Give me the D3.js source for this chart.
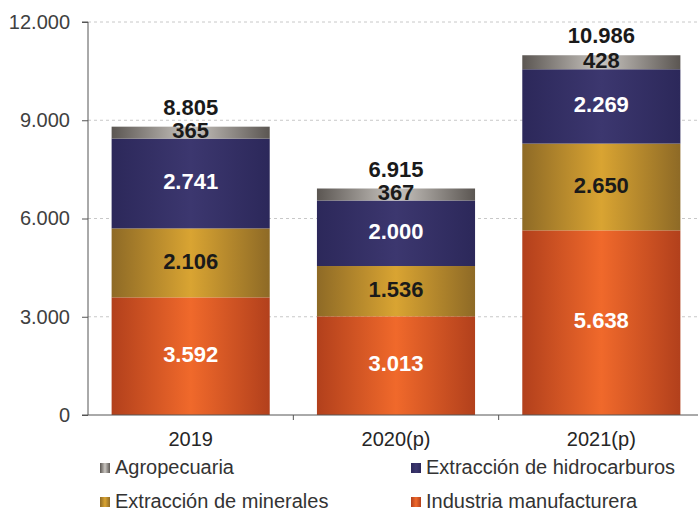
<!DOCTYPE html>
<html>
<head>
<meta charset="utf-8">
<script src="https://cdn.jsdelivr.net/npm/d3@7"></script>
<style>
  body { margin: 0; background: #fff; }
  svg { display: block; font-family: "Liberation Sans", Arial, sans-serif; }
</style>
</head>
<body>
<svg id="chart"></svg>
<script>
// chart size
const width = 698, height = 513;

// data
const years = ["2019", "2020(p)", "2021(p)"];
const seriesNames = ["Industria manufacturera", "Extracción de minerales", "Extracción de hidrocarburos", "Agropecuaria"];
const industria = [3592, 3013, 5638];
const minerales = [2106, 1536, 2650];
const hidrocarburos = [2741, 2000, 2269];
const agropecuaria = [365, 367, 428];
const totals = [8805, 6915, 10986];
const yTicks = [0, 3000, 6000, 9000, 12000];

// colours: [edge, middle, label colour]
const colors = {
    "Industria manufacturera": ["#b2401c", "#f0692b", "#ffffff"],
    "Extracción de minerales": ["#8e6a26", "#d9a432", "#1a1a1a"],
    "Extracción de hidrocarburos": ["#2c285a", "#3c376f", "#ffffff"],
    "Agropecuaria": ["#5b5652", "#c9c5c0", "#1a1a1a"]
};

const rows = years.map((y, i) => ({
    year: y,
    "Industria manufacturera": industria[i],
    "Extracción de minerales": minerales[i],
    "Extracción de hidrocarburos": hidrocarburos[i],
    "Agropecuaria": agropecuaria[i],
    total: totals[i]
}));

const fmt = d3.formatLocale({ decimal: ",", thousands: ".", grouping: [3], currency: ["", ""] }).format(",d");

const margin = { top: 22, left: 88, right: -6, bottom: 98 };

const svg = d3.select("#chart").attr("width", width).attr("height", height);

const x = d3.scaleBand()
    .domain(years)
    .range([margin.left, width - margin.right])
    .paddingInner(0.23)
    .paddingOuter(0.115);

const y = d3.scaleLinear()
    .domain([0, 12000])
    .range([height - margin.bottom, margin.top]);

// gradients (horizontal, lighter in the middle)
const defs = svg.append("defs");
seriesNames.forEach((name, i) => {
    const g = defs.append("linearGradient")
        .attr("id", "grad" + i)
        .attr("x1", "0%").attr("x2", "100%").attr("y1", "0%").attr("y2", "0%");
    g.append("stop").attr("offset", "0%").attr("stop-color", colors[name][0]);
    g.append("stop").attr("offset", "50%").attr("stop-color", colors[name][1]);
    g.append("stop").attr("offset", "100%").attr("stop-color", colors[name][0]);
});

// gridlines
svg.append("g")
    .selectAll("line")
    .data(yTicks.filter(d => d > 0))
    .enter().append("line")
    .attr("x1", margin.left)
    .attr("x2", width)
    .attr("y1", d => y(d))
    .attr("y2", d => y(d))
    .attr("stroke", "#c8c8c8")
    .attr("stroke-dasharray", "3,3");

// stacked bars
const stack = d3.stack().keys(seriesNames);
const layers = stack(rows);

const layer = svg.append("g")
    .selectAll("g")
    .data(layers)
    .enter().append("g")
    .attr("fill", (d, i) => "url(#grad" + i + ")");

layer.selectAll("rect")
    .data(d => d)
    .enter().append("rect")
    .attr("x", d => x(d.data.year))
    .attr("width", x.bandwidth())
    .attr("y", d => y(d[1]))
    .attr("height", d => y(d[0]) - y(d[1]));

// segment labels
layers.forEach(l => {
    svg.append("g")
        .selectAll("text")
        .data(l)
        .enter().append("text")
        .attr("x", d => x(d.data.year) + x.bandwidth() / 2)
        .attr("y", d => (y(d[0]) + y(d[1])) / 2)
        .attr("text-anchor", "middle")
        .attr("dominant-baseline", "middle")
        .attr("font-size", 22)
        .attr("font-weight", "bold")
        .attr("fill", colors[l.key][2])
        .text(d => fmt(d.data[l.key]));
});

// totals
svg.append("g")
    .selectAll("text")
    .data(rows)
    .enter().append("text")
    .attr("x", d => x(d.year) + x.bandwidth() / 2)
    .attr("y", d => y(d.total) - 12)
    .attr("text-anchor", "middle")
    .attr("font-size", 22)
    .attr("font-weight", "bold")
    .attr("fill", "#1a1a1a")
    .text(d => fmt(d.total));

// y axis
const yAxis = svg.append("g")
    .attr("transform", `translate(${margin.left},0)`)
    .call(d3.axisLeft(y).tickValues(yTicks).tickFormat(fmt).tickSize(6).tickPadding(12));
yAxis.select(".domain").attr("stroke", "#555").attr("d", `M-6,${y(12000)}H0V${y(0)}`);
yAxis.selectAll(".tick line").attr("stroke", "#555");
yAxis.selectAll(".tick text")
    .attr("font-size", 20)
    .attr("fill", "#404040")
    .attr("font-family", "Liberation Sans, Arial, sans-serif");

// x axis
const xAxis = svg.append("g")
    .attr("transform", `translate(0,${y(0)})`)
    .call(d3.axisBottom(x).tickSize(0).tickPadding(17));
xAxis.select(".domain").attr("stroke", "#555").attr("d", `M${margin.left - 6},0H${width}`);
xAxis.selectAll(".tick text")
    .attr("font-size", 20)
    .attr("fill", "#262626")
    .attr("font-family", "Liberation Sans, Arial, sans-serif");

// small ticks between categories
svg.append("g")
    .selectAll("line")
    .data(years.slice(1))
    .enter().append("line")
    .attr("x1", d => x(d) - x.step() * x.paddingInner() / 2)
    .attr("x2", d => x(d) - x.step() * x.paddingInner() / 2)
    .attr("y1", y(0))
    .attr("y2", y(0) + 5)
    .attr("stroke", "#555");

// legend
const legendItems = [
    { name: "Agropecuaria", i: 3, lx: 100, ly: 468 },
    { name: "Extracción de hidrocarburos", i: 2, lx: 411, ly: 468 },
    { name: "Extracción de minerales", i: 1, lx: 100, ly: 502 },
    { name: "Industria manufacturera", i: 0, lx: 411, ly: 502 }
];

const legend = svg.append("g")
    .selectAll("g")
    .data(legendItems)
    .enter().append("g")
    .attr("transform", d => `translate(${d.lx},${d.ly})`);

legend.append("rect")
    .attr("x", 0)
    .attr("y", -5)
    .attr("width", 10)
    .attr("height", 10)
    .attr("fill", d => "url(#grad" + d.i + ")");

legend.append("text")
    .attr("x", 15)
    .attr("y", 1)
    .attr("dominant-baseline", "middle")
    .attr("font-size", 20)
    .attr("fill", "#333")
    .text(d => d.name);
</script>
</body>
</html>
